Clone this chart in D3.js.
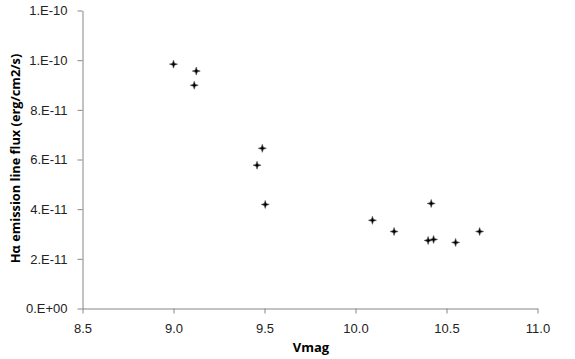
<!DOCTYPE html>
<html>
<head>
<meta charset="utf-8">
<script src="https://cdn.jsdelivr.net/npm/d3@7"></script>
<style>
  body { margin: 0; background: #fff; }
  svg { display: block; font-family: "Open Sans", "Liberation Sans", sans-serif; }
</style>
</head>
<body>
<div id="chart"></div>
<script>
var vmag = [9.00, 9.125, 9.114, 9.488, 9.459, 9.504, 10.093, 10.212, 10.416, 10.399, 10.429, 10.55, 10.682]
var flux = [9.84e-11, 9.56e-11, 8.99e-11, 6.45e-11, 5.77e-11, 4.19e-11, 3.55e-11, 3.10e-11, 4.23e-11, 2.74e-11, 2.78e-11, 2.66e-11, 3.10e-11]
var xTicks = [8.5, 9.0, 9.5, 10.0, 10.5, 11.0]
var yTicks = [0, 2e-11, 4e-11, 6e-11, 8e-11, 1.0e-10, 1.2e-10]
var yTickLabels = ["0.E+00", "2.E-11", "4.E-11", "6.E-11", "8.E-11", "1.E-10", "1.E-10"]

var width = 575, height = 359
var svg = d3.select("#chart").append("svg")
  .attr("width", width)
  .attr("height", height)

var x = d3.scaleLinear().domain([8.5, 11.0]).range([82.5, 537.5])
var y = d3.scaleLinear().domain([0, 1.2e-10]).range([308.5, 10.5])

// x axis
var xAxis = svg.append("g")
  .attr("transform", "translate(0," + y(0) + ")")
  .call(d3.axisBottom(x).tickValues(xTicks).tickSize(5).tickSizeOuter(0)
    .tickFormat(d3.format(".1f")))
xAxis.select(".domain").attr("stroke", "#868686")
xAxis.selectAll(".tick line").attr("stroke", "#868686")
xAxis.selectAll(".tick text").attr("fill", "#222").attr("font-size", 13).attr("dy", "0").attr("y", 24.5)

// y axis
var yAxis = svg.append("g")
  .attr("transform", "translate(" + x(8.5) + ",0)")
  .call(d3.axisLeft(y).tickValues(yTicks).tickSize(5).tickSizeOuter(0)
    .tickFormat(function (d, i) { return yTickLabels[i] }))
yAxis.select(".domain").attr("stroke", "#868686")
yAxis.selectAll(".tick line").attr("stroke", "#868686")
yAxis.selectAll(".tick text").attr("fill", "#222").attr("font-size", 13).attr("x", -15)

// axis titles
svg.append("text")
  .attr("x", 311).attr("y", 352)
  .attr("text-anchor", "middle")
  .attr("font-weight", "bold").attr("font-size", 13)
  .text("Vmag")

svg.append("text")
  .attr("transform", "translate(20,158.5) rotate(-90)")
  .attr("text-anchor", "middle")
  .attr("font-weight", "bold").attr("font-size", 12.8)
  .text("Hα emission line flux (erg/cm2/s)")

// four-point star markers
var star = "M0,-4L1,-1L4,0L1,1L0,4L-1,1L-4,0L-1,-1Z"
svg.append("g").selectAll("path")
  .data(vmag.map(function (v, i) { return [v, flux[i]] }))
  .enter().append("path")
  .attr("d", star)
  .attr("transform", function (d) { return "translate(" + x(d[0]) + "," + y(d[1]) + ")" })
  .attr("fill", "#000")
  .attr("stroke", "#555")
  .attr("stroke-width", 0.6)
</script>
</body>
</html>
